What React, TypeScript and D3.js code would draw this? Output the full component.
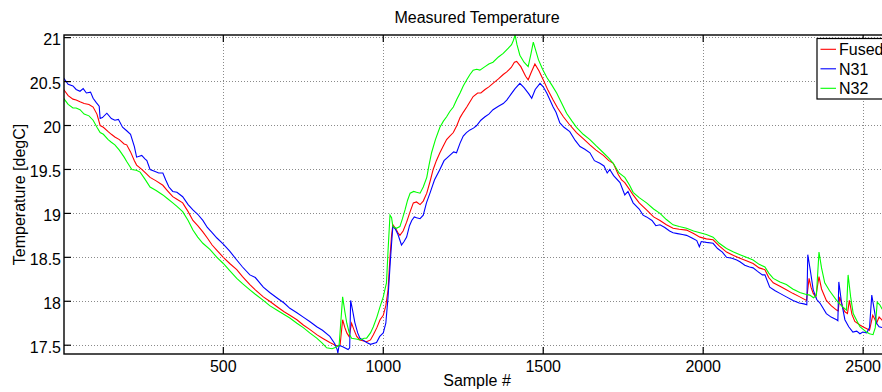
import React from "react";
import * as d3 from "d3";

const title = "Measured Temperature";
const xLabel = "Sample #";
const yLabel = "Temperature [degC]";
const xTicks = [500, 1000, 1500, 2000, 2500];
const yTicks = [17.5, 18, 18.5, 19, 19.5, 20, 20.5, 21];
const seriesNames = ["Fused", "N31", "N32"];
const seriesColors = ["#ff0000", "#0000ff", "#00ff00"];

const n31: [number, number][] = [[1,20.54],[15,20.47],[30,20.45],[40,20.41],[52,20.39],[62,20.42],[72,20.37],[85,20.38],[93,20.31],[103,20.26],[112,20.22],[115,20.08],[122,20.09],[136,20.14],[150,20.08],[161,20.06],[172,20.07],[185,19.98],[198,19.94],[210,19.9],[222,19.76],[229,19.64],[245,19.66],[255,19.62],[261,19.6],[271,19.5],[285,19.48],[298,19.46],[311,19.46],[320,19.38],[330,19.3],[342,19.25],[355,19.24],[373,19.19],[390,19.1],[405,19.04],[420,18.99],[436,18.92],[450,18.84],[465,18.78],[480,18.72],[500,18.65],[520,18.57],[542,18.47],[560,18.39],[583,18.3],[600,18.27],[625,18.16],[645,18.1],[667,18.04],[690,17.98],[708,17.92],[730,17.87],[750,17.82],[770,17.77],[792,17.71],[810,17.67],[833,17.6],[848,17.52],[856,17.45],[858,17.41],[862,17.5],[875,17.48],[890,17.45],[895,17.47],[898,18.01],[905,17.88],[911,17.76],[920,17.64],[927,17.58],[948,17.53],[960,17.51],[979,17.53],[989,17.6],[1000,17.64],[1008,17.75],[1015,18.05],[1022,18.45],[1026,18.66],[1030,18.85],[1038,18.82],[1046,18.76],[1057,18.64],[1065,18.68],[1073,18.73],[1082,18.86],[1089,18.92],[1097,18.96],[1104,18.95],[1115,18.94],[1125,18.98],[1135,19.12],[1146,19.23],[1160,19.38],[1177,19.5],[1190,19.6],[1208,19.66],[1220,19.7],[1229,19.69],[1240,19.8],[1250,19.88],[1260,19.92],[1271,19.95],[1282,19.97],[1292,20.0],[1305,20.06],[1318,20.1],[1330,20.13],[1343,20.18],[1360,20.22],[1375,20.25],[1386,20.29],[1400,20.36],[1412,20.42],[1427,20.48],[1440,20.43],[1455,20.36],[1464,20.31],[1475,20.41],[1490,20.48],[1500,20.44],[1511,20.37],[1520,20.3],[1531,20.21],[1540,20.15],[1552,20.03],[1565,19.98],[1583,19.93],[1600,19.83],[1615,19.76],[1630,19.73],[1646,19.69],[1660,19.6],[1677,19.57],[1690,19.54],[1700,19.46],[1708,19.5],[1720,19.43],[1740,19.35],[1755,19.21],[1765,19.25],[1781,19.12],[1800,19.05],[1812,18.98],[1823,18.96],[1840,18.92],[1852,18.86],[1865,18.87],[1880,18.84],[1895,18.8],[1906,18.78],[1920,18.77],[1935,18.76],[1948,18.75],[1965,18.72],[1980,18.69],[1988,18.62],[1994,18.68],[2010,18.67],[2031,18.66],[2045,18.6],[2060,18.56],[2073,18.5],[2090,18.49],[2105,18.47],[2115,18.45],[2130,18.41],[2145,18.39],[2156,18.38],[2170,18.34],[2185,18.3],[2193,18.3],[2208,18.16],[2225,18.12],[2240,18.09],[2260,18.05],[2281,18.01],[2300,17.98],[2315,17.97],[2324,17.96],[2327,18.53],[2335,18.35],[2344,18.13],[2355,18.02],[2365,17.98],[2375,17.92],[2385,17.86],[2400,17.82],[2417,17.79],[2421,17.78],[2424,18.22],[2432,18.0],[2443,17.79],[2455,17.71],[2468,17.65],[2480,17.66],[2490,17.63],[2499,17.65],[2511,17.64],[2520,17.7],[2527,18.07],[2534,17.92],[2542,17.75],[2550,17.71],[2560,17.7],[2575,17.68],[2584,17.69]];

const fused: [number, number][] = [[1,20.41],[15,20.34],[30,20.3],[40,20.29],[52,20.27],[65,20.25],[80,20.24],[93,20.21],[105,20.13],[115,20.0],[125,19.98],[140,19.93],[150,19.9],[161,19.87],[175,19.84],[190,19.79],[198,19.78],[210,19.7],[222,19.6],[229,19.55],[245,19.5],[260,19.45],[271,19.41],[290,19.37],[311,19.32],[325,19.26],[342,19.19],[355,19.16],[373,19.12],[390,19.02],[405,18.92],[420,18.86],[436,18.79],[450,18.72],[465,18.64],[480,18.58],[500,18.5],[520,18.43],[542,18.36],[560,18.28],[583,18.19],[600,18.13],[625,18.05],[645,18.0],[667,17.94],[690,17.88],[708,17.84],[730,17.79],[750,17.73],[770,17.68],[792,17.62],[810,17.58],[833,17.53],[850,17.5],[858,17.49],[865,17.5],[873,17.79],[880,17.7],[886,17.64],[893,17.6],[901,17.75],[908,17.68],[917,17.6],[927,17.56],[948,17.54],[960,17.56],[969,17.62],[980,17.7],[990,17.79],[1000,17.84],[1008,17.95],[1015,18.13],[1021,18.5],[1026,18.75],[1030,18.87],[1038,18.83],[1046,18.78],[1052,18.75],[1062,18.8],[1073,18.9],[1084,19.02],[1094,19.12],[1104,19.13],[1115,19.1],[1125,19.14],[1136,19.23],[1146,19.36],[1156,19.5],[1166,19.6],[1177,19.69],[1188,19.77],[1198,19.84],[1208,19.88],[1219,19.92],[1230,20.0],[1240,20.09],[1250,20.15],[1261,20.21],[1271,20.27],[1281,20.33],[1295,20.37],[1305,20.37],[1318,20.41],[1330,20.44],[1343,20.48],[1360,20.53],[1375,20.58],[1386,20.61],[1400,20.66],[1410,20.72],[1417,20.73],[1430,20.67],[1445,20.56],[1453,20.52],[1462,20.6],[1474,20.7],[1487,20.62],[1500,20.52],[1515,20.4],[1531,20.29],[1545,20.2],[1563,20.1],[1580,20.02],[1604,19.92],[1625,19.85],[1646,19.78],[1665,19.72],[1688,19.66],[1705,19.6],[1719,19.57],[1735,19.44],[1745,19.38],[1755,19.35],[1770,19.27],[1781,19.21],[1800,19.12],[1823,19.04],[1845,18.96],[1865,18.92],[1885,18.87],[1906,18.83],[1925,18.82],[1948,18.81],[1970,18.77],[1990,18.73],[2010,18.71],[2031,18.7],[2050,18.63],[2073,18.56],[2095,18.52],[2115,18.49],[2135,18.46],[2156,18.43],[2175,18.38],[2193,18.36],[2205,18.27],[2219,18.21],[2240,18.17],[2260,18.13],[2280,18.09],[2302,18.05],[2323,18.01],[2331,18.26],[2337,18.16],[2344,18.09],[2352,18.05],[2362,18.28],[2370,18.14],[2385,18.01],[2400,17.95],[2417,17.9],[2422,17.89],[2427,18.05],[2435,17.94],[2443,17.88],[2451,17.86],[2457,18.01],[2465,17.85],[2474,17.77],[2490,17.73],[2499,17.71],[2510,17.69],[2520,17.67],[2530,17.84],[2536,17.8],[2542,17.75],[2550,17.82],[2558,17.79],[2570,17.74],[2584,17.72]];

const n32: [number, number][] = [[1,20.31],[15,20.24],[30,20.2],[40,20.2],[52,20.18],[65,20.13],[80,20.11],[93,20.06],[105,19.98],[115,19.92],[125,19.9],[140,19.84],[150,19.81],[161,19.78],[175,19.72],[190,19.64],[198,19.59],[214,19.5],[228,19.49],[240,19.47],[255,19.39],[271,19.3],[290,19.26],[311,19.21],[325,19.17],[342,19.12],[355,19.08],[373,19.02],[390,18.92],[405,18.81],[420,18.73],[436,18.66],[458,18.59],[480,18.5],[500,18.43],[520,18.35],[542,18.26],[560,18.2],[583,18.13],[600,18.08],[625,18.01],[645,17.95],[667,17.9],[690,17.85],[708,17.81],[730,17.75],[750,17.7],[770,17.64],[792,17.58],[810,17.52],[823,17.47],[840,17.46],[854,17.48],[862,17.5],[868,17.8],[873,18.05],[880,17.88],[886,17.75],[895,17.62],[901,17.58],[915,17.57],[927,17.56],[940,17.58],[948,17.58],[960,17.64],[969,17.71],[980,17.82],[990,17.94],[1000,18.05],[1010,18.21],[1015,18.58],[1021,18.98],[1026,18.95],[1030,18.85],[1041,18.83],[1052,18.85],[1060,18.94],[1068,19.04],[1076,19.15],[1084,19.23],[1095,19.25],[1104,19.24],[1115,19.23],[1125,19.3],[1136,19.41],[1143,19.55],[1151,19.69],[1163,19.84],[1177,19.98],[1188,20.05],[1198,20.1],[1208,20.16],[1219,20.21],[1230,20.3],[1240,20.37],[1250,20.45],[1261,20.52],[1271,20.58],[1281,20.63],[1292,20.64],[1302,20.63],[1318,20.67],[1330,20.7],[1343,20.72],[1360,20.78],[1375,20.82],[1391,20.88],[1401,20.92],[1407,20.97],[1412,21.03],[1418,20.92],[1427,20.8],[1440,20.72],[1453,20.67],[1462,20.82],[1469,20.95],[1477,20.85],[1485,20.75],[1498,20.64],[1511,20.55],[1527,20.46],[1542,20.37],[1557,20.26],[1573,20.14],[1590,20.05],[1604,19.98],[1625,19.9],[1646,19.84],[1665,19.77],[1688,19.69],[1705,19.63],[1719,19.57],[1737,19.46],[1755,19.41],[1770,19.32],[1781,19.24],[1800,19.18],[1823,19.12],[1845,19.05],[1865,19.0],[1885,18.93],[1906,18.87],[1925,18.85],[1948,18.83],[1970,18.8],[1990,18.78],[2010,18.76],[2031,18.73],[2050,18.66],[2073,18.6],[2095,18.56],[2115,18.53],[2135,18.5],[2156,18.47],[2175,18.42],[2193,18.39],[2205,18.32],[2219,18.26],[2240,18.22],[2260,18.19],[2280,18.14],[2302,18.1],[2320,18.08],[2333,18.07],[2345,18.04],[2354,18.07],[2362,18.56],[2370,18.38],[2380,18.21],[2395,18.12],[2417,18.01],[2432,17.95],[2448,17.9],[2453,18.3],[2461,18.05],[2469,17.86],[2480,17.78],[2490,17.71],[2500,17.68],[2510,17.65],[2520,17.63],[2531,17.62],[2538,17.7],[2544,17.99],[2552,17.96],[2558,17.92],[2570,17.85],[2584,17.8]];

const W = 882;
const H = 392;
const left = 64;
const right = 890;
const top = 35;
const bottom = 354;
const font = "'Liberation Sans', Arial, Helvetica, sans-serif";

export default function App() {
  const x = d3.scaleLinear().domain([2, 2584]).range([left, right]);
  const y = d3.scaleLinear().domain([17.4, 21.03]).range([bottom, top]);
  const line = d3
    .line<[number, number]>()
    .x((d) => x(d[0]))
    .y((d) => y(d[1]));
  const series = [fused, n31, n32];
  const tickLen = 7;

  return (
    <svg
      width={W}
      height={H}
      style={{ position: "absolute", left: 0, top: 0, background: "#fff" }}
      fontFamily={font}
    >
      <defs>
        <clipPath id="plotclip">
          <rect x={left} y={top} width={right - left} height={bottom - top} />
        </clipPath>
      </defs>
      <rect x={0} y={0} width={W} height={H} fill="#fff" />
      {/* grid */}
      <g stroke="#8a8a8a" strokeWidth={1} strokeDasharray="1,2" shapeRendering="crispEdges">
        {xTicks.map((t) => (
          <line key={"gx" + t} x1={x(t)} x2={x(t)} y1={top} y2={bottom} />
        ))}
        {yTicks.map((t) => (
          <line key={"gy" + t} x1={left} x2={right} y1={y(t)} y2={y(t)} />
        ))}
      </g>
      {/* data */}
      <g clipPath="url(#plotclip)" fill="none" strokeWidth={1.1}>
        {series.map((s, i) => (
          <path key={i} d={line(s) || ""} stroke={seriesColors[i]} />
        ))}
      </g>
      {/* axes box */}
      <rect
        x={left}
        y={top}
        width={right - left}
        height={bottom - top}
        fill="none"
        stroke="#000"
        strokeWidth={1.4}
      />
      {/* ticks */}
      <g stroke="#000" strokeWidth={1.2}>
        {xTicks.map((t) => (
          <g key={"tx" + t}>
            <line x1={x(t)} x2={x(t)} y1={bottom} y2={bottom - tickLen} />
            <line x1={x(t)} x2={x(t)} y1={top} y2={top + tickLen} />
          </g>
        ))}
        {yTicks.map((t) => (
          <g key={"ty" + t}>
            <line x1={left} x2={left + tickLen} y1={y(t)} y2={y(t)} />
            <line x1={right} x2={right - tickLen} y1={y(t)} y2={y(t)} />
          </g>
        ))}
      </g>
      {/* tick labels */}
      <g fontSize={16} fill="#000">
        {xTicks.map((t) => (
          <text key={"lx" + t} x={x(t)} y={372} textAnchor="middle">
            {String(t)}
          </text>
        ))}
        {yTicks.map((t) => (
          <text key={"ly" + t} x={61} y={y(t) + 7.5} textAnchor="end">
            {String(t)}
          </text>
        ))}
      </g>
      {/* titles */}
      <text x={(left + right) / 2} y={23} textAnchor="middle" fontSize={16}>
        {title}
      </text>
      <text x={(left + right) / 2} y={385.5} textAnchor="middle" fontSize={16}>
        {xLabel}
      </text>
      <text
        transform={`translate(25,${(top + bottom) / 2}) rotate(-90)`}
        textAnchor="middle"
        fontSize={16}
      >
        {yLabel}
      </text>
      {/* legend */}
      <g>
        <rect x={817} y={38.5} width={75} height={60.5} fill="#fff" stroke="#000" strokeWidth={1.2} />
        {seriesNames.map((n, i) => {
          const ly = 49.3 + i * 19.5;
          return (
            <g key={n}>
              <line x1={820.5} x2={836} y1={ly} y2={ly} stroke={seriesColors[i]} strokeWidth={1.1} />
              <text x={839} y={ly + 5.7} fontSize={16}>
                {n}
              </text>
            </g>
          );
        })}
      </g>
    </svg>
  );
}
